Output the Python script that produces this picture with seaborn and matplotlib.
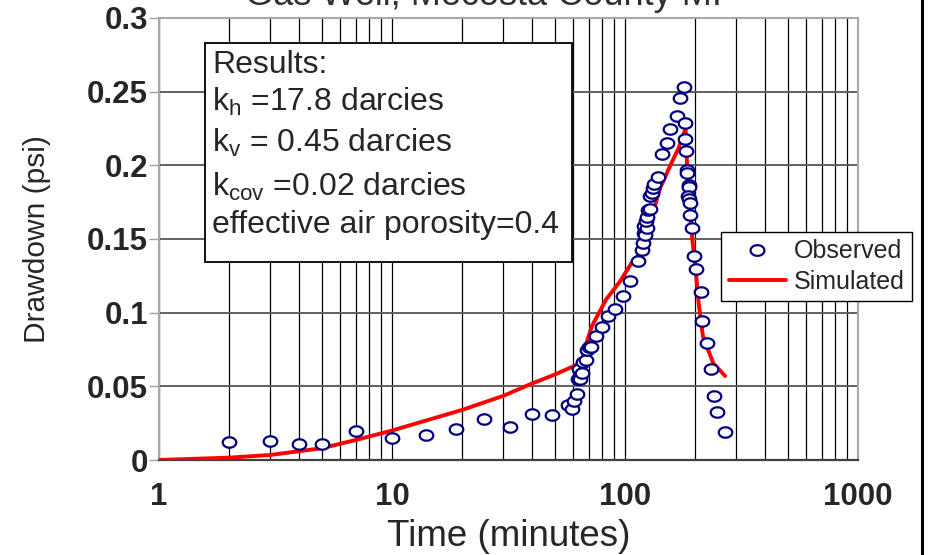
import numpy as np
import pandas as pd
import matplotlib
matplotlib.use("Agg")
import matplotlib.pyplot as plt
import seaborn as sns
from matplotlib.ticker import LogLocator, FixedLocator, NullFormatter
from matplotlib.lines import Line2D
from matplotlib.patches import Rectangle
from matplotlib.path import Path

# ---------------- data ----------------
obs_time = [2, 3, 4, 5, 7, 10, 14, 18.8, 24.8, 32, 40, 48.6,
            56.9, 59.3, 60.6, 62.1, 62.7, 64.1, 63.7, 65.6, 65.8, 68.0, 68.5,
            70.0, 71.5, 75.3, 79.6, 84.8, 90.8, 97.7, 105, 114, 118, 120,
            121, 122, 121, 124, 123, 124, 125, 128, 128, 131, 132, 133.6,
            139, 144.5, 151, 156, 167, 173, 180, 181.5,
            181.5, 183.4, 184, 184.5, 188, 189, 186, 189, 191, 190, 193,
            198, 201, 211, 215, 224, 233, 242, 248, 269]
obs_drawdown = [0.012, 0.013, 0.011, 0.011, 0.020, 0.015, 0.017, 0.021, 0.028, 0.0224, 0.031, 0.0306,
                0.037, 0.0347, 0.040, 0.045, 0.055, 0.055, 0.0617, 0.059, 0.0664, 0.068, 0.075,
                0.077, 0.077, 0.0843, 0.090, 0.0975, 0.1025, 0.1116, 0.1216, 0.135, 0.1426, 0.147,
                0.154, 0.153, 0.1587, 0.1576, 0.162, 0.165, 0.1696, 0.1705, 0.179, 0.1814, 0.1848, 0.187,
                0.1918, 0.2077, 0.2154, 0.2245, 0.2336, 0.2458, 0.253, 0.229,
                0.2177, 0.2098, 0.197, 0.195, 0.1864, 0.185, 0.179, 0.177, 0.1746, 0.166, 0.1576,
                0.1388, 0.1297, 0.1138, 0.0946, 0.0794, 0.0617, 0.0437, 0.0324, 0.019]

sim_time = [1, 2, 3, 5, 7, 10, 20, 30, 40, 50, 62, 66, 68.5, 72, 83, 95, 107, 120,
            132, 141, 156, 169, 182, 184, 186, 190, 195, 201, 207, 216, 239, 269]
sim_drawdown = [0.0, 0.0016, 0.0034, 0.008, 0.0136, 0.020, 0.034, 0.0435, 0.052, 0.058, 0.0646,
                0.070, 0.080, 0.0907, 0.109, 0.121, 0.134, 0.143, 0.168, 0.184, 0.1995, 0.211,
                0.225, 0.206, 0.19, 0.168, 0.148, 0.129, 0.1066, 0.084, 0.0658, 0.057]

x_ticks = [1, 10, 100, 1000]
x_tick_labels = ["1", "10", "100", "1000"]
y_ticks = [0, 0.05, 0.1, 0.15, 0.2, 0.25, 0.3]
y_tick_labels = ["0", "0.05", "0.1", "0.15", "0.2", "0.25", "0.3"]

result_lines = ["Results:",
                r"k$_\mathregular{h}$ =17.8 darcies",
                r"k$_\mathregular{v}$ = 0.45 darcies",
                r"k$_\mathregular{cov}$ =0.02 darcies",
                "effective air porosity=0.4"]

obs_df = pd.DataFrame({"Time": obs_time, "Drawdown": obs_drawdown})
sim_df = pd.DataFrame({"Time": sim_time, "Drawdown": sim_drawdown})

# ---------------- style ----------------
sns.set_style("white")
plt.rcParams["font.family"] = ["Liberation Sans", "DejaVu Sans"]
plt.rcParams["mathtext.fontset"] = "custom"
plt.rcParams["mathtext.rm"] = "Liberation Sans"
plt.rcParams["mathtext.it"] = "Liberation Sans"

W, H = 930, 555
fig = plt.figure(figsize=(W / 100, H / 100), dpi=100)
fig.patch.set_facecolor("white")
ax = fig.add_axes([159 / W, 1 - 460 / H, (858 - 159) / W, (460 - 18) / H])

# ellipse-ish marker
th = np.linspace(0, 2 * np.pi, 60)
ell = Path(np.column_stack([1.3 * np.cos(th), np.sin(th)]), closed=True)

sns.lineplot(data=sim_df, x="Time", y="Drawdown", ax=ax, color="#ff0000",
             linewidth=2.8, sort=False, estimator=None, zorder=3, label="_sim")
sns.scatterplot(data=obs_df, x="Time", y="Drawdown", ax=ax, marker=ell, s=95,
                facecolor="white", edgecolor="#000080", linewidth=1.6, zorder=4,
                label="_obs")

ax.set_xscale("log")
ax.set_xlim(1, 1000)
ax.set_ylim(0, 0.3)

ax.xaxis.set_major_locator(FixedLocator(x_ticks))
ax.set_xticklabels(x_tick_labels)
ax.xaxis.set_minor_locator(LogLocator(base=10, subs=range(2, 10)))
ax.xaxis.set_minor_formatter(NullFormatter())
ax.set_yticks(y_ticks)
ax.set_yticklabels(y_tick_labels)

ax.grid(which="both", axis="x", color="black", linewidth=0.9, zorder=1)
ax.grid(which="major", axis="y", color="#606060", linewidth=1.4, zorder=1)
ax.set_axisbelow(True)

ax.tick_params(axis="x", which="major", direction="out", length=9, width=1.2,
               color="#404040", pad=7, labelsize=22.5)
ax.tick_params(axis="x", which="minor", length=0)
ax.tick_params(axis="y", which="major", direction="out", length=7, width=1.0,
               color="#a0a0a0", pad=1, labelsize=22.5, left=True)
for lab in ax.get_xticklabels() + ax.get_yticklabels():
    lab.set_fontweight("bold")

for side in ["left", "top", "right"]:
    ax.spines[side].set_color("#a8a8a8")
    ax.spines[side].set_linewidth(1.5)
ax.spines["bottom"].set_color("#404040")
ax.spines["bottom"].set_linewidth(1.6)

ax.set_xlabel("Time (minutes)", fontsize=26.5)
ax.set_ylabel("Drawdown (psi)", fontsize=21.5)
ax.xaxis.set_label_coords(0.5, -0.133)
ax.yaxis.set_label_coords(-0.155, 0.5)

# Results box
fig.add_artist(Rectangle((205 / W, 1 - 262 / H), (572 - 205) / W, (262 - 43) / H,
                         transform=fig.transFigure, facecolor="white",
                         edgecolor="black", linewidth=1.3, zorder=5))
ys = [65, 102, 143, 187, 225]
for txt, yp in zip(result_lines, ys):
    fig.text(212 / W, 1 - yp / H, txt, fontsize=23, va="center", ha="left", zorder=6)

# legend
handles = [Line2D([], [], linestyle="none", marker=ell, markersize=10,
                  markerfacecolor="white", markeredgecolor="#000080", markeredgewidth=1.6),
           Line2D([], [], color="#ff0000", linewidth=2.8)]
leg = fig.legend(handles, ["Observed", "Simulated"], loc="upper left",
                 bbox_to_anchor=(721 / W, 1 - 232 / H), fontsize=18,
                 frameon=True, fancybox=False, edgecolor="black", framealpha=1,
                 borderaxespad=0, handlelength=2.3, borderpad=0.3,
                 labelspacing=0.25, handletextpad=0.3)
leg.get_frame().set_linewidth(1.0)

# clipped title at the top edge
fig.text(0.52, 1 - 5 / H, "Gas Well, Mecosta County MI", fontsize=26,
         ha="center", va="baseline", color="#303030")

# right border line
fig.add_artist(Line2D([922 / W, 922 / W], [0, 1], transform=fig.transFigure,
                      color="black", linewidth=2.2))

fig.savefig("out.png", dpi=100)
